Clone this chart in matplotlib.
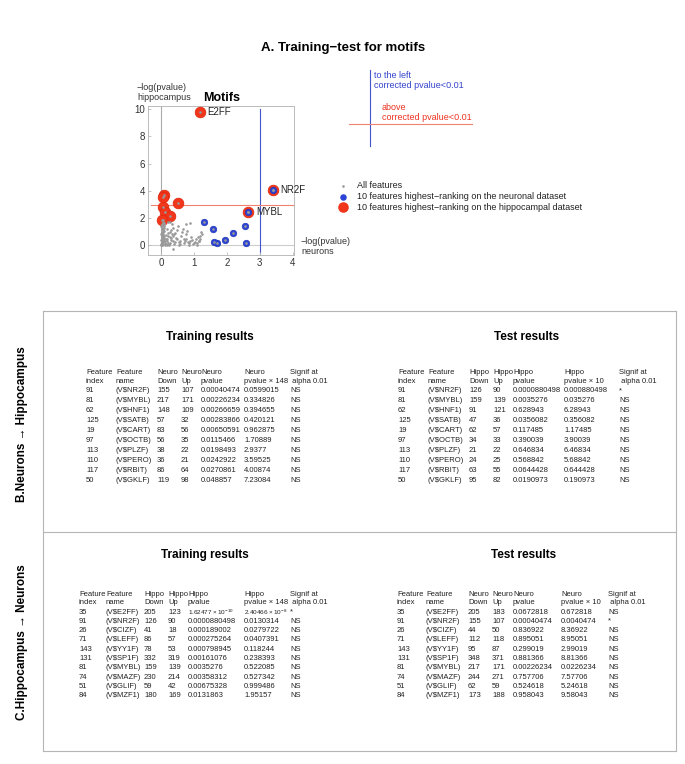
import numpy as np
import matplotlib.pyplot as plt

plt.rcParams['font.family'] = ['Liberation Sans', 'DejaVu Sans']

W, H = 685, 764

# panel B: top 10 on the neuronal (training) dataset, tested on hippocampus
b_idx = [91, 81, 62, 125, 19, 97, 113, 110, 117, 50]
b_name = ['NR2F', 'MYBL', 'HNF1', 'SATB', 'CART', 'OCTB', 'PLZF', 'PERO', 'RBIT', 'GKLF']
b_tr_down = [155, 217, 148, 57, 83, 56, 38, 36, 86, 119]
b_tr_up = [107, 171, 109, 32, 56, 35, 22, 21, 64, 98]
b_tr_p = [0.00040474, 0.00226234, 0.00266659, 0.00283866, 0.00650591,
          0.0115466, 0.0198493, 0.0242922, 0.0270861, 0.048857]
b_tr_pc = [0.0599015, 0.334826, 0.394655, 0.420121, 0.962875,
           1.70889, 2.9377, 3.59525, 4.00874, 7.23084]
b_tr_sig = ['NS'] * 10
b_te_down = [126, 159, 91, 47, 62, 34, 21, 24, 63, 95]
b_te_up = [90, 139, 121, 36, 57, 33, 22, 25, 55, 82]
b_te_p = [0.0000880498, 0.0035276, 0.628943, 0.0356082, 0.117485,
          0.390039, 0.646834, 0.568842, 0.0644428, 0.0190973]
b_te_pc = [0.000880498, 0.035276, 6.28943, 0.356082, 1.17485,
           3.90039, 6.46834, 5.68842, 0.644428, 0.190973]
b_te_sig = ['*'] + ['NS'] * 9

# panel C: top 10 on the hippocampal (training) dataset, tested on neurons
c_idx = [35, 91, 26, 71, 143, 131, 81, 74, 51, 84]
c_name = ['E2FF', 'NR2F', 'CIZF', 'LEFF', 'YY1F', 'SP1F', 'MYBL', 'MAZF', 'GLIF', 'MZF1']
c_tr_down = [205, 126, 41, 86, 78, 332, 159, 230, 59, 180]
c_tr_up = [123, 90, 18, 57, 53, 319, 139, 214, 42, 169]
c_tr_p = [1.62477e-10, 0.0000880498, 0.000189002, 0.000275264, 0.000798945,
          0.00161076, 0.0035276, 0.00358312, 0.00675328, 0.0131863]
c_tr_pc = [2.40466e-8, 0.0130314, 0.0279722, 0.0407391, 0.118244,
           0.238393, 0.522085, 0.527342, 0.999486, 1.95157]
c_tr_sig = ['*'] + ['NS'] * 9
c_te_down = [205, 155, 44, 112, 95, 348, 217, 244, 62, 173]
c_te_up = [183, 107, 50, 118, 87, 371, 171, 271, 59, 188]
c_te_p = [0.0672818, 0.00040474, 0.836922, 0.895051, 0.299019,
          0.881366, 0.00226234, 0.757706, 0.524618, 0.958043]
c_te_pc = [0.672818, 0.0040474, 8.36922, 8.95051, 2.99019,
           8.81366, 0.0226234, 7.57706, 5.24618, 9.58043]
c_te_sig = ['NS', '*'] + ['NS'] * 8

# remaining features (-log pvalue neurons, -log pvalue hippocampus)
gx = [0.0, 0.02, 0.05, 0.01, 0.03, 0.06, 0.0, 0.04, 0.08, 0.02, 0.05, 0.1, 0.0, 0.03,
      0.07, 0.01, 0.05, 0.09, 0.02, 0.06, 0.0, 0.04, 0.08, 0.02, 0.06, 0.1, 0.14, 0.2,
      0.17, 0.13, 0.19, 0.16, 0.22, 0.18, 0.2, 0.27, 0.33, 0.24, 0.27, 0.3, 0.26, 0.32,
      0.28, 0.35, 0.4, 0.37, 0.44, 0.41, 0.47, 0.5, 0.53, 0.56, 0.6, 0.63, 0.66, 0.35,
      0.7, 0.74, 0.77, 0.8, 0.84, 0.88, 0.92, 0.75, 0.98, 1.02, 0.88, 1.06, 1.1, 1.13,
      1.16, 1.19, 1.21, 1.23, 1.18, 0.02, 0.07, 0.09, 0.03, 0.06, 0.1, 0.04, 0.08, 0.0,
      0.15, 0.22, 0.3, 0.36, 0.43, 0.58, 0.68, 0.86, 0.01, 0.04, 0.07, 0.12, 0.18, 0.03,
      0.06, 0.11, 0.24, 0.29, 0.38, 0.48, 0.55, 0.72, 0.81, 0.95, 1.0, 1.08, 1.14, 0.05]
gy = [0.0, 0.05, 0.1, 0.2, 0.3, 0.25, 0.4, 0.5, 0.45, 0.6, 0.7, 0.65, 0.8, 0.9,
      0.85, 1.0, 1.1, 1.05, 1.2, 1.3, 1.4, 1.5, 1.45, 1.6, 1.7, 1.65, 0.1, 0.15,
      0.3, 0.0, 0.5, 0.75, 0.9, 1.2, 1.75, 1.7, 1.6, 0.05, 0.2, 0.4, 0.6, 0.8,
      1.0, 1.3, 0.1, 0.35, 0.55, 0.9, 1.15, 1.4, 0.05, 0.3, 0.7, 1.0, 1.2, -0.3,
      0.15, 0.45, 0.8, 1.05, 0.0, 0.3, 0.6, 1.6, 0.1, 0.25, 1.65, 0.5, 0.15, 0.6,
      0.35, 0.7, 0.95, 0.8, 0.45, 0.15, 0.35, 0.55, 0.75, 0.95, 1.25, 1.35, 1.55, 0.1,
      0.45, 0.7, 1.1, 0.65, 0.25, 0.1, 0.5, 0.2, 0.02, 0.12, 0.22, 0.32, 0.02, 0.62,
      0.42, 0.18, 0.12, 0.52, 0.85, 0.5, 0.22, 0.35, 0.28, 0.42, 0.18, 0.05, 0.3, 1.85]


def fmt(v):
    if v < 1e-6:
        m, e = f"{v:.5e}".split('e')
        return rf"$\mathregular{{{m}\times10^{{{int(e)}}}}}$"
    return np.format_float_positional(v, precision=6, unique=True, fractional=False, trim='-')


fig = plt.figure(figsize=(W / 100, H / 100), dpi=100)
bg = fig.add_axes([0, 0, 1, 1])
bg.set_xlim(0, W)
bg.set_ylim(H, 0)
bg.axis('off')

bg.text(343, 48, 'A. Training\u2212test for motifs', ha='center', va='center',
        fontsize=9.5, fontweight='bold')

# scatter
ax = fig.add_axes([147.7 / W, 1 - 255 / H, 146.3 / W, 149 / H])
ax.set_xlim(-0.41, 4.04)
ax.set_ylim(-0.71, 10.24)
ax.axvline(0, color='#aaaaaa', lw=0.8, zorder=1)
ax.axhline(0, color='#cccccc', lw=0.8, zorder=1)
ax.plot([3, 3], [-0.6, 10.0], color='#4455cc', lw=0.8, zorder=1)
ax.plot([-0.3, 4.0], [3.0, 3.0], color='#f08070', lw=0.8, zorder=1)

rx = -np.log10(c_te_p)
ry = -np.log10(c_tr_p)
bx = -np.log10(b_tr_p)
by = -np.log10(b_te_p)
ax.scatter(rx, ry, s=58, color='#f2361b', edgecolor='#e02a10', lw=0.6, zorder=3)
ax.scatter(bx, by, s=22, color='#2b44d6', edgecolor='#2236b8', lw=0.5, zorder=4)
ax.scatter(list(gx) + list(rx) + list(bx), list(gy) + list(ry) + list(by),
           s=3.5, color='#999999', lw=0, zorder=5)
for lab in ['E2FF', 'NR2F', 'MYBL']:
    i = c_name.index(lab)
    ax.text(rx[i] + 0.24, ry[i], lab, fontsize=7, va='center', ha='left', color='#222222')

ax.set_xticks([0, 1, 2, 3, 4])
ax.set_yticks([0, 2, 4, 6, 8, 10])
ax.tick_params(direction='in', length=2.5, width=0.6, color='#bbbbbb',
               labelsize=7, labelcolor='#333333', pad=2)
for sp in ax.spines.values():
    sp.set_color('#bbbbbb')
    sp.set_linewidth(0.7)

bg.text(222, 98, 'Motifs', ha='center', va='center', fontsize=9, fontweight='bold')
bg.text(137, 87, '\u2212log(pvalue)', ha='left', va='center', fontsize=6.5, color='#333333')
bg.text(137, 97, 'hippocampus', ha='left', va='center', fontsize=6.5, color='#333333')
bg.text(301, 241, '\u2212log(pvalue)', ha='left', va='center', fontsize=6.5, color='#333333')
bg.text(301, 251, 'neurons', ha='left', va='center', fontsize=6.5, color='#333333')

# legend
bg.scatter([343], [186], s=3.5, color='#999999', lw=0)
bg.scatter([343], [197], s=22, color='#2b44d6', lw=0)
bg.scatter([343], [207], s=58, color='#f2361b', lw=0)
leg = ['All features', '10 features highest\u2212ranking on the neuronal dataset',
       '10 features highest\u2212ranking on the hippocampal dataset']
for k, t in enumerate(leg):
    bg.text(357, 186 + 10.5 * k, t, ha='left', va='center', fontsize=6.5, color='#222222')

# threshold key
bg.plot([370, 370], [70, 146], color='#4455cc', lw=0.8)
bg.plot([349, 472], [124, 124], color='#f08070', lw=0.8)
bg.text(374, 76, 'to the left', fontsize=6.5, color='#3344cc', va='center')
bg.text(374, 86, 'corrected pvalue<0.01', fontsize=6.5, color='#3344cc', va='center')
bg.text(382, 108, 'above', fontsize=6.5, color='#ee3322', va='center')
bg.text(382, 118, 'corrected pvalue<0.01', fontsize=6.5, color='#ee3322', va='center')

# boxes
lc = '#b5b5b5'
bg.plot([43, 676], [311, 311], color=lc, lw=0.8)
bg.plot([43, 676], [532, 532], color=lc, lw=0.8)
bg.plot([43, 676], [751, 751], color=lc, lw=0.8)
bg.plot([43, 43], [311, 751], color=lc, lw=0.8)
bg.plot([676, 676], [311, 751], color=lc, lw=0.8)

bg.text(22, 424, 'B.Neurons \u2192 Hippocampus', rotation=90, ha='center', va='center',
        fontsize=8.5, fontweight='bold')
bg.text(22, 642, 'C.Hippocampus \u2192 Neurons', rotation=90, ha='center', va='center',
        fontsize=8.5, fontweight='bold')

fs = 5.5


def draw_table(xs, pre, mult, y_title, title, tx, y0, step, idx, names, down, up, p, pc, sig):
    bg.text(tx, y_title, title, ha='center', va='center', fontsize=8.5, fontweight='bold')
    heads = [('Feature', 'index'), ('Feature', 'name'), (pre, 'Down'), (pre, 'Up'),
             (pre, 'pvalue'), (pre, 'pvalue \u00d7 ' + mult), ('Signif at', ' alpha 0.01')]
    for x, (h1, h2) in zip(xs, heads):
        bg.text(x, y0 - 18, h1, fontsize=fs, va='center', color='#222222')
        bg.text(x, y0 - 9.5, h2, fontsize=fs, va='center', color='#222222')
    for i in range(len(idx)):
        y = y0 + step * i
        cells = [str(idx[i]), '(V$' + names[i] + ')', str(down[i]), str(up[i]),
                 fmt(p[i]), fmt(pc[i]), sig[i]]
        for x, c in zip(xs, cells):
            if c.startswith('$'):
                bg.text(x, y, c, fontsize=4.6, va='center', color='#222222')
            else:
                bg.text(x, y, c, fontsize=fs, va='center', color='#222222')


draw_table([86, 116, 157, 181, 201, 244, 290], 'Neuro', '148', 337, 'Training results', 210,
           391, 10, b_idx, b_name, b_tr_down, b_tr_up, b_tr_p, b_tr_pc, b_tr_sig)
draw_table([398, 428, 469, 493, 513, 564, 619], 'Hippo', '10', 337, 'Test results', 527,
           391, 10, b_idx, b_name, b_te_down, b_te_up, b_te_p, b_te_pc, b_te_sig)
draw_table([79, 106, 144, 168, 188, 244, 290], 'Hippo', '148', 555, 'Training results', 205,
           612, 9.3, c_idx, c_name, c_tr_down, c_tr_up, c_tr_p, c_tr_pc, c_tr_sig)
draw_table([397, 426, 468, 492, 513, 561, 608], 'Neuro', '10', 555, 'Test results', 524,
           612, 9.3, c_idx, c_name, c_te_down, c_te_up, c_te_p, c_te_pc, c_te_sig)

fig.savefig('out.png', dpi=100)
